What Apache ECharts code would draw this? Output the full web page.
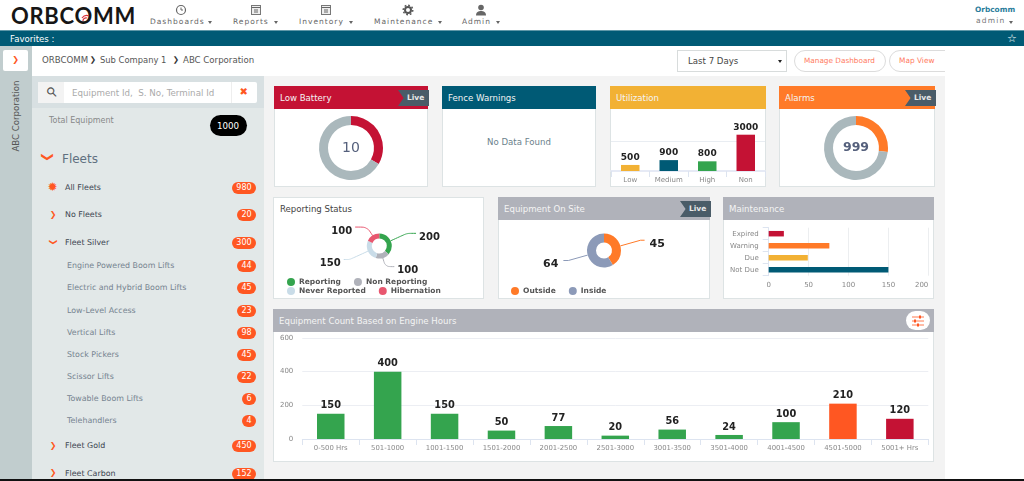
<!DOCTYPE html>
<html>
<head>
<meta charset="utf-8">
<title>ORBCOMM dashboard</title>
<script src="https://cdn.jsdelivr.net/npm/echarts@6/dist/echarts.min.js"></script>
<style>
html, body { margin: 0; padding: 0; background: #fff; overflow: hidden; }
body { width: 1024px; height: 481px; position: relative; font-family: "DejaVu Sans", sans-serif; color: #666; }
.box, .txt { position: absolute; box-sizing: border-box; }
.txt { white-space: pre; line-height: 1; transform: translateY(-50%); }
#main { position: absolute; left: 0; top: 0; width: 1024px; height: 481px; pointer-events: none; }
</style>
</head>
<body>
<div id="page"></div>
<div id="main"></div>
<script>
// chart values
var utilCats = ['Low', 'Medium', 'High', 'Non'];
var utilValues = [500, 900, 800, 3000];
var batteryValues = [10, 20];
var alarmValues = [999, 2700];
var reportNames = ['Reporting', 'Non Reporting', 'Never Reported', 'Hibernation'];
var reportValues = [200, 100, 150, 100];
var siteNames = ['Outside', 'Inside'];
var siteValues = [45, 64];
var maintCats = ['Expired', 'Warning', 'Due', 'Not Due'];
var maintValues = [19, 76, 49, 150];
var hourCats = ['0-500 Hrs', '501-1000', '1001-1500', '1501-2000', '2001-2500', '2501-3000', '3001-3500', '3501-4000', '4001-4500', '4501-5000', '5001+ Hrs'];
var hourValues = [150, 400, 150, 50, 77, 20, 56, 24, 100, 210, 120];

// sidebar list
var fleetNames = ['All Fleets', 'No Fleets', 'Fleet Silver', 'Engine Powered Boom Lifts', 'Electric and Hybrid Boom Lifts', 'Low-Level Access', 'Vertical Lifts', 'Stock Pickers', 'Scissor Lifts', 'Towable Boom Lifts', 'Telehandlers', 'Fleet Gold', 'Fleet Carbon'];
var fleetCounts = [980, 20, 300, 44, 45, 23, 98, 45, 22, 6, 4, 450, 152];
var fleetRows = [187, 214.5, 242, 265.5, 287.5, 310, 332, 354, 376, 398, 420, 445.5, 473];
var fleetIcons = ['star', 'right', 'down', '', '', '', '', '', '', '', '', 'right', 'right'];

var navNames = ['Dashboards', 'Reports', 'Inventory', 'Maintenance', 'Admin'];
var navLeft = [150, 233, 299, 374, 462];
var navCaret = [208, 274, 349, 438, 496];
var navIcon = [181, 256, 326, 408, 481];

var GREEN = '#34a44e', RED = '#c41234', ORANGE = '#ff7a28', DEEP = '#ff5722', TEAL = '#005a75', AMBER = '#f2b134', GREY = '#aab8bc', HEAD = '#b0b2ba';

var page = document.getElementById('page');

function box(x, y, w, h, css) {
    var d = document.createElement('div');
    d.className = 'box';
    d.style.cssText = 'left:' + x + 'px;top:' + y + 'px;width:' + w + 'px;height:' + h + 'px;' + (css || '');
    page.appendChild(d);
    return d;
}
function txt(s, x, y, size, color, css) {
    var d = document.createElement('div');
    d.className = 'txt';
    d.textContent = s;
    d.style.cssText = 'left:' + x + 'px;top:' + y + 'px;font-size:' + size + 'px;color:' + color + ';' + (css || '');
    page.appendChild(d);
    return d;
}
function caret(x, y, color) {
    box(x, y, 0, 0, 'border-left:2.5px solid transparent;border-right:2.5px solid transparent;border-top:3px solid ' + color + ';');
}
function chevron(x, y, size, color, down) {
    var d = txt('❯', x, y, size, color, 'font-weight:bold;transform:translate(-50%,-50%)' + (down ? ' rotate(90deg)' : '') + ';');
    return d;
}
function card(x, y, w, h, title, color, live) {
    box(x, y, w, h, 'background:#fff;border:1px solid #dde3e4;');
    box(x, y, w, 23, 'background:' + color + ';');
    txt(title, x + 6, y + 11.5, 8.6, '#f4f4f4');
    if (live) {
        box(x + w - 30, y + 4, 31, 16, 'background:#4a5c68;clip-path:polygon(0 0,100% 0,100% 100%,0 100%,18% 50%);');
        txt('Live', x + w - 21, y + 12, 7.5, '#e8e8e8', 'font-weight:bold;');
    }
}
function navGlyph(k) {
    var g = [
        '<circle cx="7" cy="7" r="4.5" fill="none" stroke="#666" stroke-width="1.2"/><path d="M7 4.5v2.5h2" fill="none" stroke="#666"/>',
        '<rect x="2.5" y="2.5" width="9" height="9" fill="#eee" stroke="#777"/><path d="M2.5 4.5h9M5 7h4M5 9h4" stroke="#666"/>',
        '<rect x="2.5" y="2.5" width="9" height="9" fill="#eee" stroke="#777"/><path d="M2.5 4.5h9M5 7h4M5 9h4" stroke="#666"/>',
        '<circle cx="7" cy="7" r="3" fill="none" stroke="#555" stroke-width="2"/><circle cx="7" cy="7" r="4.8" fill="none" stroke="#555" stroke-width="1.4" stroke-dasharray="1.8 1.9"/>',
        '<circle cx="7" cy="4.5" r="2.8" fill="#666"/><path d="M2 12.5c0-3.5 2.5-4.5 5-4.5s5 1 5 4.5z" fill="#666"/>'
    ];
    return '<svg width="14" height="14">' + g[k] + '</svg>';
}

// top bar
box(0, 30, 1024, 16, 'background:' + TEAL + ';border-top:1px solid #5f98a8;');
txt('Favorites :', 10, 39, 8.6, '#fff');
txt('☆', 1007, 38, 11, '#fff');
txt('ORBCOMM', 11, 16, 22, '#161616', 'font-family:Lato;font-weight:bold;letter-spacing:0.7px;');
box(80, 9, 12, 10).innerHTML = '<svg width="12" height="10"><path d="M3 7a3 3 0 0 1 4 -3M2 4a6 6 0 0 1 7 -2" fill="none" stroke="#d8323a" stroke-width="1.2"/></svg>';
for (var n = 0; n < navNames.length; n++) {
    txt(navNames[n], navLeft[n], 22, 7.5, '#666', 'letter-spacing:1px;');
    caret(navCaret[n], 21, '#666');
    box(navIcon[n] - 7, 2, 14, 14).innerHTML = navGlyph(n);
}
txt('Orbcomm', 975, 9.5, 7.4, '#2a7d9c', 'font-weight:bold;');
txt('admin', 976, 21, 7.5, '#777', 'letter-spacing:1.2px;');
caret(1009, 20.5, '#666');

// breadcrumb strip
box(0, 46, 32, 435, 'background:#c1cdce;');
box(3, 50, 25, 21, 'background:#fff;border-radius:2px;');
chevron(15.5, 60, 8, DEEP);
txt('ABC Corporation', 16, 116, 8.6, '#555', 'transform:translate(-50%,-50%) rotate(-90deg);');
txt('ORBCOMM', 42, 60, 8.6, '#555');
chevron(93, 60, 7.5, '#333');
txt('Sub Company 1', 100, 60, 8.4, '#555');
chevron(176, 60, 7.5, '#333');
txt('ABC Corporation', 183, 60, 8.6, '#555');
box(677, 50, 110, 22, 'border:1px solid #d8dcdc;');
txt('Last 7 Days', 688, 61, 8.6, '#444');
caret(778, 60, '#222');
box(794, 50, 92, 22, 'border:1px solid #dcdcdc;border-radius:11px;');
txt('Manage Dashboard', 804, 61, 7.3, '#ff7a60');
box(889, 50, 70, 22, 'border:1px solid #dcdcdc;border-radius:11px;');
txt('Map View', 899, 61, 7.4, '#ff7a60');
box(945, 46, 79, 435, 'background:#fff;');

// left panel
box(32, 76, 232, 405, 'background:#e2e8e8;');
box(32, 76, 232, 32, 'background:#d8e0e2;');
box(38, 82, 219, 21, 'background:#fff;border-radius:2px;');
box(38, 82, 26, 21, 'background:#f3f3f3;');
txt('⚲', 47, 92, 13, '#555', 'transform:translateY(-50%) rotate(-45deg);font-weight:bold;');
txt('Equipment Id,  S. No, Terminal Id', 72, 92.5, 8.7, '#aaa');
box(231, 82, 1, 21, 'background:#eee;');
txt('✖', 239.5, 92, 10, DEEP);
txt('Total Equipment', 49, 120.5, 8, '#888');
box(210, 115, 37, 21, 'background:#000;border-radius:11px;');
txt('1000', 217, 125.5, 8.7, '#fff');
chevron(48, 157, 12, DEEP, true);
txt('Fleets', 62, 158.5, 12, '#607080');
for (var i = 0; i < fleetNames.length; i++) {
    var sub = !fleetIcons[i];
    txt(fleetNames[i], sub ? 67 : 65, fleetRows[i] + 0.5, 7.9, sub ? '#768490' : '#3c4450');
    if (fleetIcons[i] == 'star') {
        txt('✹', 47.5, fleetRows[i], 12, DEEP);
    } else if (fleetIcons[i]) {
        chevron(53, fleetRows[i], 8, DEEP, fleetIcons[i] == 'down');
    }
    var c = String(fleetCounts[i]);
    var w = c.length == 3 ? 24 : (c.length == 2 ? 19 : 14);
    box(256 - w, fleetRows[i] - 5.5, w, 12, 'background:' + DEEP + ';border-radius:6px;color:#fff;font-size:8px;line-height:12px;text-align:center;').textContent = c;
}

// dashboard background and cards
box(264, 76, 681, 403, 'background:#f3f3f3;');
box(0, 479, 1024, 2, 'background:#111;');
card(274, 86, 154, 101, 'Low Battery', RED, true);
card(442, 86, 154, 101, 'Fence Warnings', TEAL, false);
card(610, 86, 156, 101, 'Utilization', AMBER, false);
card(779, 86, 156, 101, 'Alarms', ORANGE, true);
box(273, 197, 211, 102, 'background:#fff;border:1px solid #dde3e4;');
txt('Reporting Status', 280, 209, 8.6, '#444');
card(498, 197, 212, 102, 'Equipment On Site', HEAD, true);
card(723, 197, 211, 102, 'Maintenance', HEAD, false);
card(273, 309, 661, 153, 'Equipment Count Based on Engine Hours', HEAD, false);
txt('No Data Found', 487, 141.5, 8.6, '#6b7f8c');
box(906, 311, 24, 19, 'background:#fff;border-radius:10px;').innerHTML = '<svg width="24" height="19"><path d="M6 6h12M6 10h12M6 14h12" stroke="#ff7a50" stroke-width="1"/><path d="M14 4.5v3M9 8.5v3M12 12.5v3" stroke="#ff5722" stroke-width="2"/></svg>';

var valueLabel = { show: true, position: 'top', distance: 3, fontFamily: 'DejaVu Sans', fontWeight: 'bold', fontSize: 9.8, color: '#222' };
var pieLabel = { fontFamily: 'DejaVu Sans', fontWeight: 'bold', fontSize: 10, color: '#222' };
var legendBase = { itemWidth: 8, itemHeight: 8, itemGap: 13, icon: 'circle', padding: 0, selectedMode: false,
    textStyle: { fontFamily: 'DejaVu Sans', fontSize: 7.5, fontWeight: 'bold', color: '#555', padding: [0, 0, 0, -1] } };

function donut(name, values, center, colors, label) {
    return {
        type: 'pie', name: name, center: center, radius: [23, 32], startAngle: 90, silent: true,
        label: { show: true, position: 'center', formatter: label, fontFamily: 'DejaVu Sans', fontSize: label == '999' ? 12.5 : 14, fontWeight: label == '999' ? 'bold' : 'normal', color: '#55607c' },
        labelLine: { show: false },
        data: values.map(function (v, k) { return { value: v, itemStyle: { color: colors[k] } }; })
    };
}
function labelled(names, values, colors, lines) {
    return values.map(function (v, k) {
        return {
            name: names[k], value: v, itemStyle: { color: colors[k] },
            labelLine: { length: lines[k][0], length2: lines[k][1], smooth: lines[k][2], lineStyle: { width: 1, color: colors[k] } }
        };
    });
}

var myChart = echarts.init(document.getElementById('main'), null, { renderer: 'canvas' });
var option = {
    animation: false,
    backgroundColor: 'transparent',
    legend: [
        Object.assign({}, legendBase, { left: 287, top: 278, data: reportNames.slice(0, 2) }),
        Object.assign({}, legendBase, { left: 287, top: 287, data: reportNames.slice(2) }),
        Object.assign({}, legendBase, { left: 511, top: 287, data: siteNames })
    ],
    grid: [
        { left: 611, top: 110.5, width: 154, height: 60.5 },
        { left: 768.7, top: 227.7, width: 159.6, height: 48 },
        { left: 302.3, top: 338, width: 626, height: 101 }
    ],
    xAxis: [{
        gridIndex: 0, type: 'category', data: utilCats,
        axisLine: { lineStyle: { color: '#e6eaf5', width: 2 } }, axisTick: { show: true, length: 6, lineStyle: { color: '#dde4f0' } },
        axisLabel: { color: '#888', fontSize: 7, margin: 6, fontFamily: 'DejaVu Sans', interval: 0 }
    }, {
        gridIndex: 1, type: 'value', min: 0, max: 200, interval: 50,
        axisLine: { show: false }, axisTick: { show: false },
        splitLine: { lineStyle: { color: '#eceef0' } },
        axisLabel: { color: '#888', fontSize: 7, margin: 6, fontFamily: 'DejaVu Sans', alignMaxLabel: 'right' }
    }, {
        gridIndex: 2, type: 'category', data: hourCats,
        axisLine: { lineStyle: { color: '#dde4f0' } }, axisTick: { show: true, length: 6, lineStyle: { color: '#dde4f0' } },
        axisLabel: { color: '#888', fontSize: 6.9, margin: 6, fontFamily: 'DejaVu Sans', interval: 0 }
    }],
    yAxis: [{
        gridIndex: 0, type: 'value', min: 0, max: 5000, interval: 2500,
        axisLine: { show: false }, axisTick: { show: false }, axisLabel: { show: false },
        splitLine: { showMaxLine: false, lineStyle: { color: '#e9edf2' } }
    }, {
        gridIndex: 1, type: 'category', data: maintCats, inverse: true,
        axisLine: { show: true, lineStyle: { color: '#dde4f0' } }, axisTick: { show: true, length: 6, lineStyle: { color: '#dde4f0' } },
        axisLabel: { color: '#888', fontSize: 7, margin: 10, fontFamily: 'DejaVu Sans' }
    }, {
        gridIndex: 2, type: 'value', min: 0, max: 600, interval: 200,
        axisLine: { show: false }, axisTick: { show: false },
        splitLine: { lineStyle: { color: '#eceef3' } },
        axisLabel: { color: '#888', fontSize: 7, margin: 9, fontFamily: 'DejaVu Sans' }
    }],
    series: [
        donut('battery', batteryValues, [351, 148], [RED, GREY], '10'),
        donut('alarms', alarmValues, [856, 148], [ORANGE, GREY], '999'),
        {
            type: 'pie', name: 'report', center: [379.3, 246], radius: [7.5, 12.5], startAngle: 90, silent: true,
            label: Object.assign({ formatter: '{c}', distanceToLabelLine: 3 }, pieLabel),
            labelLayout: { dy: 4 },
            data: labelled(reportNames, reportValues, [GREEN, HEAD, '#c9dce8', '#e8576f'], [[18, 9, 0.2], [9, 9, true], [20, 6, 0.2], [10, 12, true]])
        },
        {
            type: 'pie', name: 'site', center: [604, 250.5], radius: [8, 17], startAngle: 90, silent: true,
            label: Object.assign({ formatter: '{c}', distanceToLabelLine: 5 }, pieLabel, { fontSize: 11 }),
            labelLayout: { dy: 4 },
            data: labelled(siteNames, siteValues, [ORANGE, '#8c9ab8'], [[21, 4, false], [20, 5, false]])
        },
        {
            type: 'bar', xAxisIndex: 0, yAxisIndex: 0, barWidth: 18.5, label: Object.assign({}, valueLabel, { fontSize: 9 }),
            data: utilValues.map(function (v, k) { return { value: v, itemStyle: { color: [AMBER, TEAL, GREEN, RED][k] } }; })
        },
        {
            type: 'bar', xAxisIndex: 1, yAxisIndex: 1, barWidth: 5.5,
            data: maintValues.map(function (v, k) { return { value: v, itemStyle: { color: [RED, ORANGE, AMBER, TEAL][k] } }; })
        },
        {
            type: 'bar', xAxisIndex: 2, yAxisIndex: 2, barWidth: 27.5, label: valueLabel,
            data: hourValues.map(function (v, k) { return { value: v, itemStyle: { color: k == 9 ? DEEP : (k == 10 ? RED : GREEN) } }; })
        }
    ]
};
myChart.setOption(option);
</script>
</body>
</html>
